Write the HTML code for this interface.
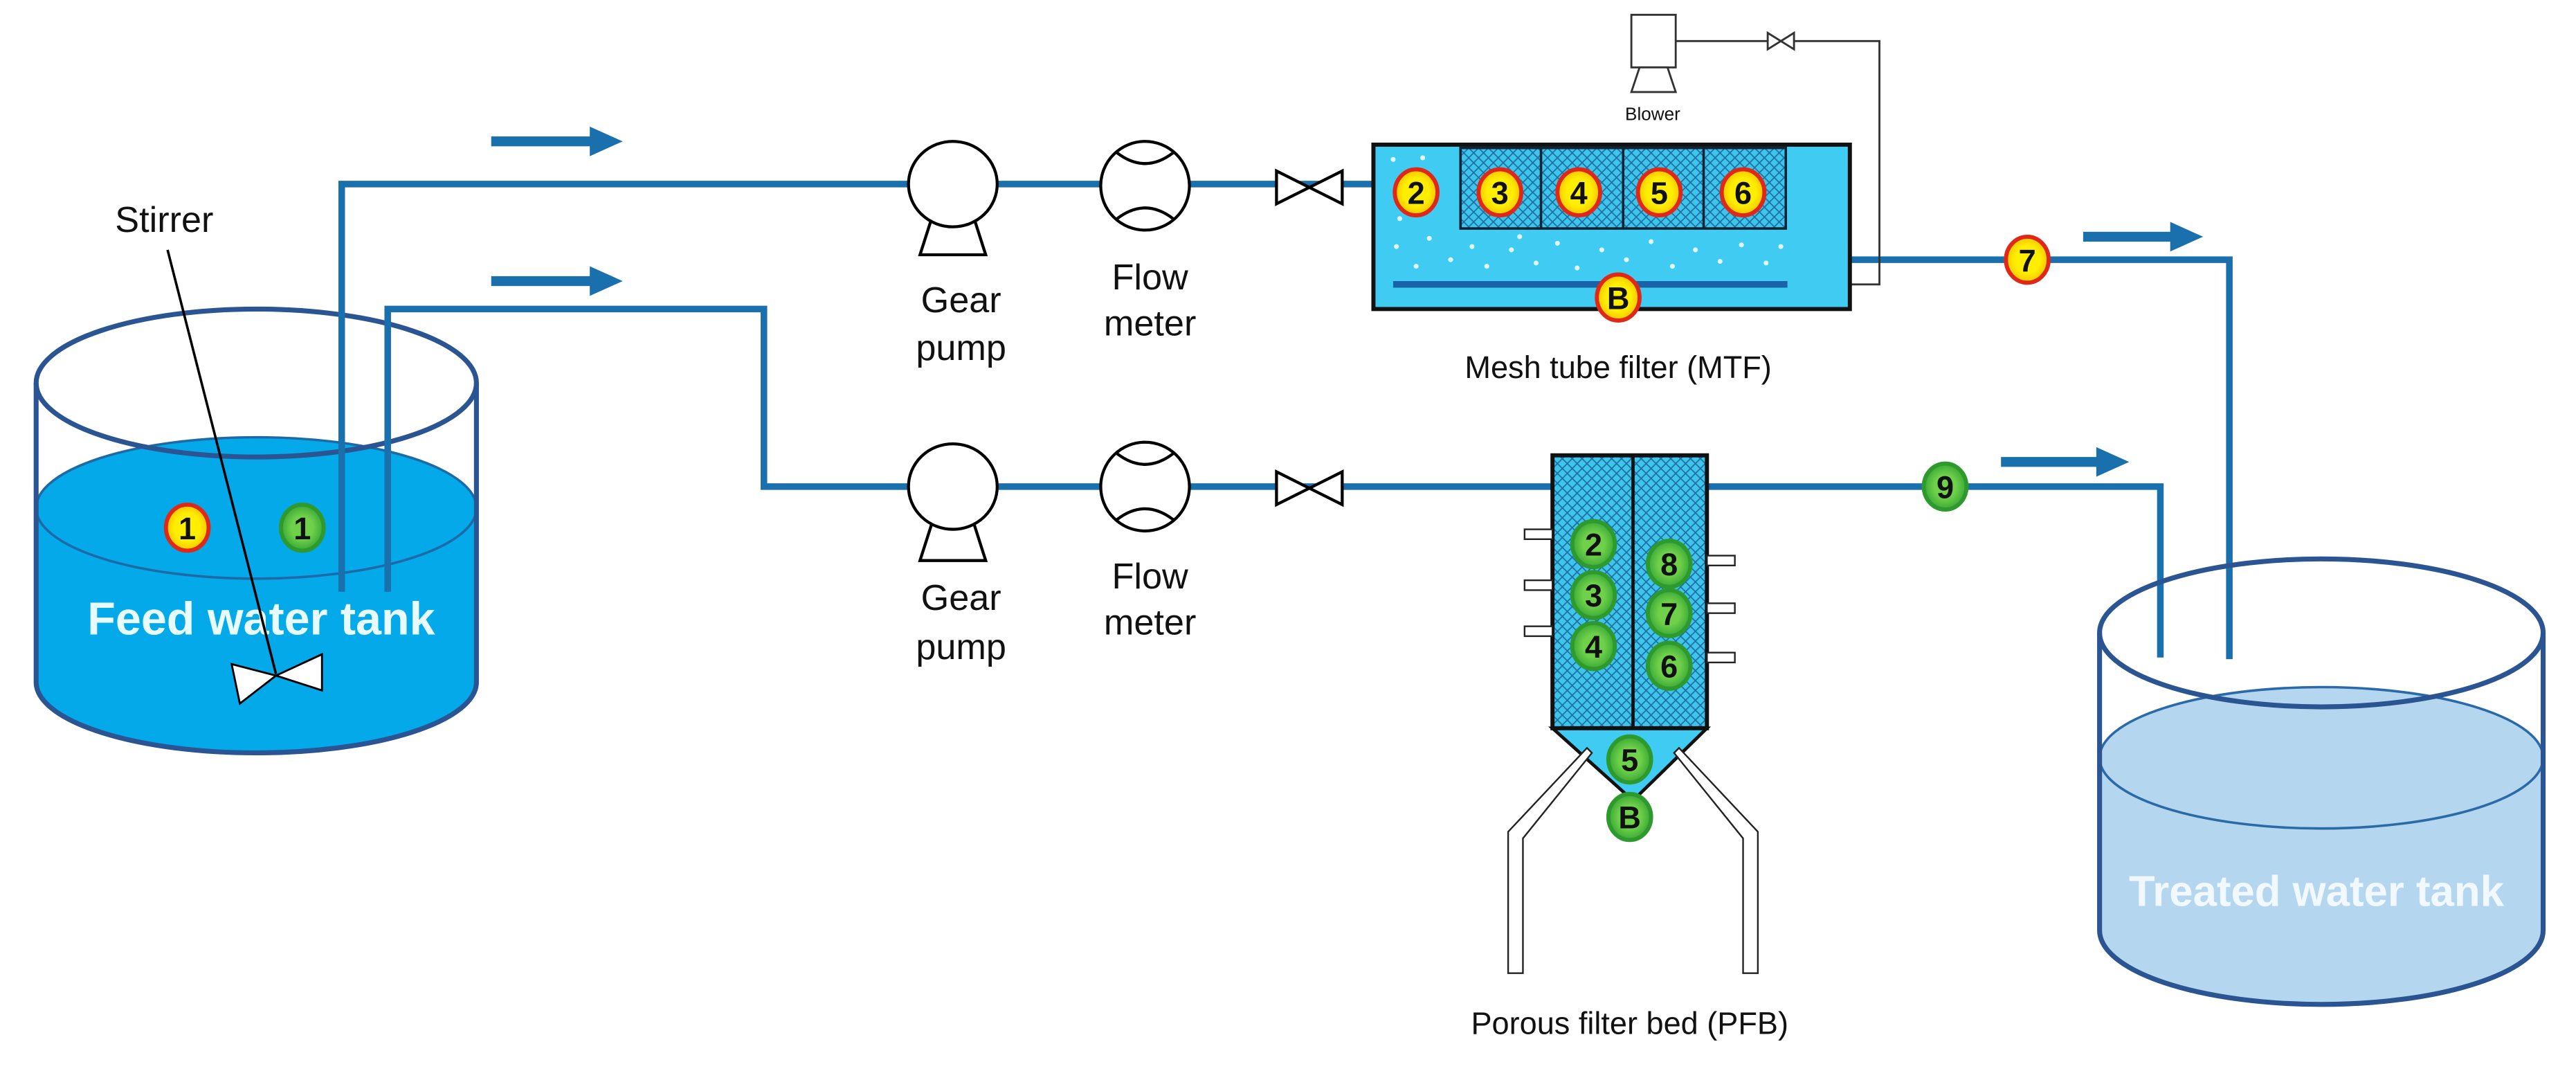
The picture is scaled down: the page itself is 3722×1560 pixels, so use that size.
<!DOCTYPE html>
<html><head><meta charset="utf-8"><style>html,body{margin:0;padding:0;background:#fff}svg{display:block}</style></head>
<body>
<svg width="3722" height="1560" viewBox="0 0 1568 657" preserveAspectRatio="none" xmlns="http://www.w3.org/2000/svg" font-family="Liberation Sans, sans-serif">
<defs>
<pattern id="mesh" width="6" height="6" patternUnits="userSpaceOnUse">
<rect width="6" height="6" fill="#3fc4ec"/>
<path d="M0 0L6 6M6 0L0 6" stroke="#1c6fa0" stroke-width="0.7"/>
</pattern>
<radialGradient id="yel"><stop offset="0.6" stop-color="#ffee00"/><stop offset="1" stop-color="#f5c400"/></radialGradient>
<radialGradient id="grn"><stop offset="0.5" stop-color="#6fd14a"/><stop offset="1" stop-color="#3aa836"/></radialGradient>
</defs>
<g id="feed">
<path d="M22 309 L22 415 A134 43 0 0 0 290 415 L290 309 A134 43 0 0 0 22 309 Z" fill="#03a9e8"/>
<ellipse cx="156" cy="309" rx="134" ry="43" fill="#03a9e8" stroke="#1e6aa8" stroke-width="1.5"/>
<path d="M22 233 L22 415 A134 43 0 0 0 290 415 L290 233" fill="none" stroke="#2a5592" stroke-width="3"/>
<ellipse cx="156" cy="233" rx="134" ry="45" fill="none" stroke="#2a5592" stroke-width="3"/>
<text x="159" y="386" font-size="28" font-weight="bold" fill="#e8fbff" text-anchor="middle">Feed water tank</text>
<text x="100" y="141" font-size="22" fill="#111" text-anchor="middle">Stirrer</text>
<line x1="102" y1="152" x2="168" y2="410" stroke="#000" stroke-width="1.5"/>
<path d="M141 404 L168 411 L146 428 Z M168 411 L196 398 L196 420 Z" fill="#fff" stroke="#000" stroke-width="1.2"/>
</g>
<g fill="none" stroke="#1a6fad" stroke-width="4">
<path d="M208 360 V112 H836"/>
<path d="M236 360 V188 H465 V296 H946"/>
<path d="M1127 158 H1357 V401"/>
<path d="M1039 296 H1315 V400"/>
</g>
<g fill="#1a6fad" stroke="none">
<rect x="299" y="83" width="62" height="6"/><path d="M359 77 L379 86 L359 95Z"/>
<rect x="299" y="168" width="62" height="6"/><path d="M359 162 L379 171 L359 180Z"/>
<rect x="1268" y="141" width="55" height="6"/><path d="M1321 135 L1341 144 L1321 153Z"/>
<rect x="1218" y="278" width="60" height="6"/><path d="M1276 272 L1296 281 L1276 290Z"/>
</g>
<g stroke="#000" stroke-width="1.8" fill="#fff">
<path d="M560 155 L568 130 L592 130 L600 155 Z"/>
<ellipse cx="580" cy="112" rx="27" ry="26"/>
<path d="M560 341 L568 316 L592 316 L600 341 Z"/>
<ellipse cx="580" cy="296" rx="27" ry="26"/>
<ellipse cx="697" cy="113" rx="27" ry="27"/>
<path d="M680 93 Q697 106 714 93 M680 133 Q697 120 714 133" fill="none"/>
<ellipse cx="697" cy="296" rx="27" ry="27"/>
<path d="M680 276 Q697 289 714 276 M680 316 Q697 303 714 316" fill="none"/>
<path d="M777 104 L817 124 L817 104 L777 124 Z"/>
<path d="M777 287 L817 307 L817 287 L777 307 Z"/>
</g>
<g font-size="22" fill="#111" text-anchor="middle">
<text x="585" y="190">Gear</text><text x="585" y="219">pump</text>
<text x="700" y="176">Flow</text><text x="700" y="204">meter</text>
<text x="585" y="371">Gear</text><text x="585" y="401">pump</text>
<text x="700" y="358">Flow</text><text x="700" y="386">meter</text>
<text x="985" y="230" font-size="19">Mesh tube filter (MTF)</text>
<text x="992" y="629" font-size="19">Porous filter bed (PFB)</text>
<text x="1006" y="73" font-size="11">Blower</text>
</g>
<!-- blower -->
<g stroke="#333" stroke-width="1.2" fill="#fff">
<rect x="993" y="9" width="27" height="32"/>
<path d="M993 56 L998 41 L1015 41 L1020 56 Z"/>
<path d="M1020 25 H1144 V173 H1087" fill="none"/>
<path d="M1076 20 L1092 30 L1092 20 L1076 30 Z"/>
</g>
<!-- MTF -->
<rect x="836" y="88" width="290" height="100" fill="#3fcbf2" stroke="#111" stroke-width="2.5"/>
<rect x="889" y="90" width="198" height="49" fill="url(#mesh)" stroke="#123" stroke-width="1.5"/>
<g stroke="#123" stroke-width="1.5"><line x1="938" y1="90" x2="938" y2="139"/><line x1="988" y1="90" x2="988" y2="139"/><line x1="1037" y1="90" x2="1037" y2="139"/></g>
<g fill="#fff" opacity="0.85">
<circle cx="848" cy="97" r="1.5"/><circle cx="866" cy="96" r="1.5"/><circle cx="852" cy="133" r="1.5"/>
<circle cx="850" cy="150" r="1.5"/><circle cx="870" cy="145" r="1.5"/><circle cx="883" cy="158" r="1.5"/><circle cx="896" cy="150" r="1.5"/>
<circle cx="905" cy="162" r="1.5"/><circle cx="920" cy="152" r="1.5"/><circle cx="935" cy="160" r="1.5"/><circle cx="948" cy="148" r="1.5"/>
<circle cx="960" cy="163" r="1.5"/><circle cx="975" cy="152" r="1.5"/><circle cx="990" cy="158" r="1.5"/><circle cx="1005" cy="147" r="1.5"/>
<circle cx="1018" cy="162" r="1.5"/><circle cx="1032" cy="152" r="1.5"/><circle cx="1047" cy="159" r="1.5"/><circle cx="1060" cy="149" r="1.5"/>
<circle cx="1075" cy="160" r="1.5"/><circle cx="1084" cy="150" r="1.5"/><circle cx="862" cy="162" r="1.5"/><circle cx="925" cy="144" r="1.5"/>
</g>
<rect x="848" y="171" width="240" height="4" fill="#1a62a8"/>
<!-- PFB -->
<path d="M945 443 L1039 443 L994 487 Z" fill="#3fcbf2" stroke="#111" stroke-width="2"/>
<rect x="945" y="277" width="94" height="166" fill="url(#mesh)" stroke="#111" stroke-width="2.5"/>
<line x1="994" y1="277" x2="994" y2="443" stroke="#111" stroke-width="2"/>
<g fill="#fff" stroke="#222" stroke-width="1">
<rect x="928" y="322" width="17" height="6"/><rect x="928" y="353" width="17" height="6"/><rect x="928" y="381" width="17" height="6"/>
<rect x="1039" y="338" width="17" height="6"/><rect x="1039" y="367" width="17" height="6"/><rect x="1039" y="397" width="17" height="6"/>
<path d="M966 455 L969 458 L927 510 L927 592 L918 592 L918 506 Z"/>
<path d="M1022 455 L1019 458 L1061 510 L1061 592 L1070 592 L1070 506 Z"/>
</g>
<!-- treated tank -->
<path d="M1278 461 L1278 566 A135 45 0 0 0 1548 566 L1548 461 A135 43 0 0 0 1278 461 Z" fill="#b5d6ef"/>
<ellipse cx="1413" cy="461" rx="135" ry="43" fill="#b5d6ef" stroke="#2a6aa8" stroke-width="1.5"/>
<path d="M1278 385 L1278 566 A135 45 0 0 0 1548 566 L1548 385" fill="none" stroke="#2a5592" stroke-width="3"/>
<ellipse cx="1413" cy="385" rx="135" ry="45" fill="none" stroke="#2a5592" stroke-width="3"/>
<text x="1410" y="551" font-size="26" font-weight="bold" fill="#f2f8ff" text-anchor="middle">Treated water tank</text>
<!-- markers -->
<g font-size="19" font-weight="bold" text-anchor="middle" fill="#111">
<g stroke="#e02818" stroke-width="2.5" fill="url(#yel)">
<ellipse cx="114" cy="321" rx="13" ry="14"/><ellipse cx="862" cy="117" rx="13" ry="14"/><ellipse cx="913" cy="117" rx="13" ry="14"/>
<ellipse cx="961" cy="117" rx="13" ry="14"/><ellipse cx="1010" cy="117" rx="13" ry="14"/><ellipse cx="1061" cy="117" rx="13" ry="14"/>
<ellipse cx="985" cy="181" rx="13" ry="14"/><ellipse cx="1234" cy="158" rx="13" ry="14"/>
</g>
<g stroke="#2e9a2e" stroke-width="2.5" fill="url(#grn)">
<ellipse cx="184" cy="321" rx="13" ry="14"/><ellipse cx="970" cy="331" rx="13" ry="14"/><ellipse cx="970" cy="362" rx="13" ry="14"/>
<ellipse cx="970" cy="393" rx="13" ry="14"/><ellipse cx="1016" cy="343" rx="13" ry="14"/><ellipse cx="1016" cy="373" rx="13" ry="14"/>
<ellipse cx="1016" cy="405" rx="13" ry="14"/><ellipse cx="992" cy="462" rx="13" ry="14"/><ellipse cx="992" cy="497" rx="13" ry="14"/>
<ellipse cx="1184" cy="296" rx="13" ry="14"/>
</g>
<text x="114" y="328">1</text><text x="862" y="124">2</text><text x="913" y="124">3</text><text x="961" y="124">4</text>
<text x="1010" y="124">5</text><text x="1061" y="124">6</text><text x="985" y="188">B</text><text x="1234" y="165">7</text>
<text x="184" y="328">1</text><text x="970" y="338">2</text><text x="970" y="369">3</text><text x="970" y="400">4</text>
<text x="1016" y="350">8</text><text x="1016" y="380">7</text><text x="1016" y="412">6</text><text x="992" y="469">5</text>
<text x="992" y="504">B</text><text x="1184" y="303">9</text>
</g>
</svg>
</body></html>
